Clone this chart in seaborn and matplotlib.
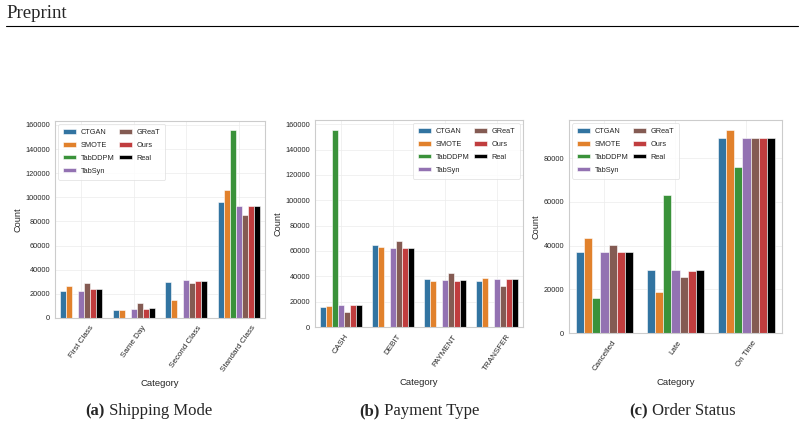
import pandas as pd
import numpy as np
import seaborn as sns
import matplotlib.pyplot as plt
from matplotlib.lines import Line2D

models = ["CTGAN", "SMOTE", "TabDDPM", "TabSyn", "GReaT", "Ours", "Real"]

# (a) Shipping Mode
ship_cats = ["First Class", "Same Day", "Second Class", "Standard Class"]
ship_ctgan = [22700, 6900, 29600, 95800]
ship_smote = [26500, 6900, 14700, 106500]
ship_tabddpm = [np.nan, np.nan, np.nan, 155500]
ship_tabsyn = [22700, 7700, 31800, 92700]
ship_great = [29300, 12200, 28800, 85000]
ship_ours = [23800, 7700, 30400, 92700]
ship_real = [23800, 8200, 30400, 92700]

# (b) Payment Type
pay_cats = ["CASH", "DEBIT", "PAYMENT", "TRANSFER"]
pay_ctgan = [16100, 64800, 37700, 36400]
pay_smote = [16900, 63300, 36400, 38500]
pay_tabddpm = [155500, np.nan, np.nan, np.nan]
pay_tabsyn = [17400, 62000, 37400, 37700]
pay_great = [12100, 68000, 42700, 32700]
pay_ours = [17400, 62700, 36100, 37700]
pay_real = [17400, 62500, 36900, 37700]

# (c) Order Status
ord_cats = ["Cancelled", "Late", "On Time"]
ord_ctgan = [37000, 28700, 89100]
ord_smote = [43500, 18700, 92900]
ord_tabddpm = [15800, 63100, 76000]
ord_tabsyn = [36900, 28900, 89100]
ord_great = [40200, 25500, 89100]
ord_ours = [36900, 28300, 89500]
ord_real = [37000, 28700, 89100]

captions = [("(a)", " Shipping Mode"), ("(b)", " Payment Type"), ("(c)", " Order Status")]

tab = sns.color_palette("tab10")
palette = {"CTGAN": tab[0], "SMOTE": tab[1], "TabDDPM": tab[2], "TabSyn": tab[4],
           "GReaT": tab[5], "Ours": tab[3], "Real": "black"}


def long_df(cats, series):
    rows = []
    for m, vals in zip(models, series):
        for c, v in zip(cats, vals):
            rows.append({"Category": c, "Count": v, "Model": m})
    return pd.DataFrame(rows)


panels = [
    (ship_cats, [ship_ctgan, ship_smote, ship_tabddpm, ship_tabsyn, ship_great, ship_ours, ship_real], "upper left"),
    (pay_cats, [pay_ctgan, pay_smote, pay_tabddpm, pay_tabsyn, pay_great, pay_ours, pay_real], "upper right"),
    (ord_cats, [ord_ctgan, ord_smote, ord_tabddpm, ord_tabsyn, ord_great, ord_ours, ord_real], "upper left"),
]

sns.set_theme(style="whitegrid")
plt.rcParams["font.family"] = ["Liberation Sans Narrow", "Liberation Sans", "DejaVu Sans"]

W, H = 804, 432
fig = plt.figure(figsize=(W / 100, H / 100), dpi=100)

# axes boxes in pixels: left, top, right, bottom
boxes = [(55, 121, 265, 318), (315, 120, 523, 327), (569, 120, 782, 333)]
cap_x = [105, 380, 648]

for (cats, series, loc), (l, t, r, b), (lab, txt), cx in zip(panels, boxes, captions, cap_x):
    ax = fig.add_axes([l / W, 1 - b / H, (r - l) / W, (b - t) / H])
    df = long_df(cats, series)
    sns.barplot(data=df, x="Category", y="Count", hue="Model", hue_order=models,
                palette=palette, ax=ax, saturation=0.75, linewidth=0.4, edgecolor="white")
    ax.grid(True, axis="both", color="#ececec", lw=0.5)
    ax.set_axisbelow(True)
    for s in ax.spines.values():
        s.set_color("#cccccc")
        s.set_linewidth(0.8)
    ax.tick_params(axis="y", labelsize=5.3, pad=3.5, length=0)
    ax.tick_params(axis="x", labelsize=5.8, pad=4.5, length=0)
    plt.setp(ax.get_xticklabels(), rotation=55, ha="center")
    ax.set_xlabel("Category", fontsize=6.8, labelpad=4)
    ax.set_ylabel("Count", fontsize=6.6, labelpad=2)
    leg = ax.legend(loc=loc, ncol=2, fontsize=5.3, frameon=True, handlelength=1.8,
                    handleheight=0.55, handletextpad=0.6, columnspacing=0.6,
                    labelspacing=0.8, borderpad=0.65, borderaxespad=0.45)
    leg.get_frame().set_edgecolor("#dddddd")
    leg.get_frame().set_linewidth(0.6)
    fig.text(cx / W, 1 - 411 / H, lab, ha="right", va="center", fontsize=12,
             family="Liberation Serif", fontweight="bold")
    fig.text(cx / W, 1 - 411 / H, txt, ha="left", va="center", fontsize=12,
             family="Liberation Serif")

fig.text(6 / W, 1 - 14 / H, "Preprint", ha="left", va="center", fontsize=13.5,
         family="Liberation Serif")
fig.add_artist(Line2D([6 / W, 798 / W], [1 - 26 / H, 1 - 26 / H], color="black", lw=0.8))

fig.savefig("out.png", dpi=100)
